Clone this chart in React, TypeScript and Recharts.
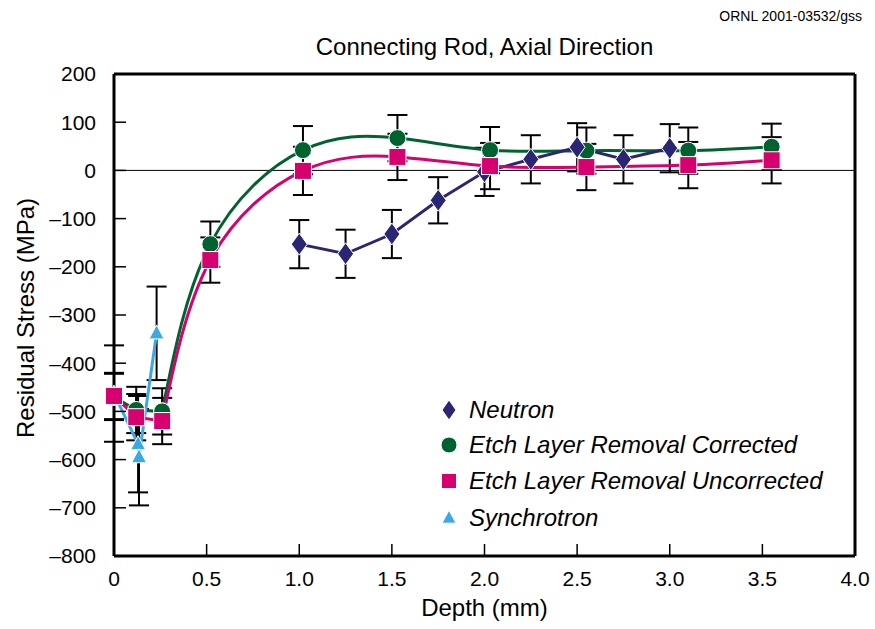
import React from 'react';
import { LineChart, Line, XAxis, YAxis, ErrorBar, ReferenceLine } from 'recharts';

const W = 875;
const H = 629;
const FONT = '"Liberation Sans", Arial, Helvetica, sans-serif';

// Axis ticks
const depthTicks = [0, 0.5, 1, 1.5, 2, 2.5, 3, 3.5, 4];
const stressTicks = [200, 100, 0, -100, -200, -300, -400, -500, -600, -700, -800];

// Neutron diffraction
const neutronDepth = [1.0, 1.25, 1.5, 1.75, 2.0, 2.25, 2.5, 2.75, 3.0];
const neutronStress = [-153, -173, -132, -62, -3, 23, 48, 23, 46];
const neutronErr = [50, 50, 50, 48, 50, 50, 50, 50, 50];

// Etch layer removal (corrected / uncorrected share depths)
const etchDepth = [0, 0.12, 0.26, 0.52, 1.02, 1.53, 2.03, 2.55, 3.1, 3.55];
const etchCorrected = [-470, -497, -500, -153, 42, 67, 42, 41, 41, 49];
const etchUncorrected = [-468, -512, -520, -186, -1, 28, 9, 7, 11, 21];
const etchErr = [48, 48, 48, 47, 50, 48, 48, 48, 48, 48];
// near-surface points are joined by straight segments, the rest by a smooth fit
const etchSmoothFrom = 2;

// Synchrotron
const synchDepth = [0, 0.13, 0.135, 0.23];
const synchStress = [-463, -568, -595, -338];
const synchErr = [100, 100, 100, 97];

const COLORS = {
  neutron: '#2b2674',
  corrected: '#00622f',
  uncorrected: '#d6006f',
  synch: '#3ea8e4',
};

const zip = (xs: number[], ys: number[], es: number[]) =>
  xs.map((x, i) => ({ x, y: ys[i], err: es[i] }));

const neutronData = zip(neutronDepth, neutronStress, neutronErr);
const correctedData = zip(etchDepth, etchCorrected, etchErr);
const uncorrectedData = zip(etchDepth, etchUncorrected, etchErr);
const synchData = zip(synchDepth, synchStress, synchErr);

const Diamond = ({ cx, cy, w = 16, h = 22, fill }: any) => (
  <path
    d={`M${cx},${cy - h / 2} L${cx + w / 2},${cy} L${cx},${cy + h / 2} L${cx - w / 2},${cy} Z`}
    fill={fill}
    stroke="#fff"
    strokeWidth={1}
  />
);
const Circle = ({ cx, cy, r = 8.5, fill }: any) => (
  <circle cx={cx} cy={cy} r={r} fill={fill} stroke="#fff" strokeWidth={1} />
);
const Square = ({ cx, cy, s = 17, fill }: any) => (
  <rect x={cx - s / 2} y={cy - s / 2} width={s} height={s} fill={fill} stroke="#fff" strokeWidth={1} />
);
const Triangle = ({ cx, cy, w = 15, h = 14, fill }: any) => (
  <path
    d={`M${cx},${cy - h * 0.6} L${cx + w / 2},${cy + h * 0.4} L${cx - w / 2},${cy + h * 0.4} Z`}
    fill={fill}
    stroke="#fff"
    strokeWidth={1}
  />
);

const dotOf = (Shape: any, fill: string, tag: string) => (p: any) => (
  <Shape key={`${tag}-${p.index}`} cx={p.cx} cy={p.cy} fill={fill} />
);

const fmtStress = (v: number) => (v < 0 ? `\u2013${Math.abs(v)}` : String(v));
const fmtDepth = (v: number) => (v === 0 ? '0' : v.toFixed(1));

const legendItems = [
  { label: 'Neutron', icon: <Diamond cx={10} cy={12} w={14} h={20} fill={COLORS.neutron} /> },
  { label: 'Etch Layer Removal Corrected', icon: <Circle cx={10} cy={12} r={8} fill={COLORS.corrected} /> },
  { label: 'Etch Layer Removal Uncorrected', icon: <Square cx={10} cy={12} s={15} fill={COLORS.uncorrected} /> },
  { label: 'Synchrotron', icon: <Triangle cx={10} cy={12} w={14} h={13} fill={COLORS.synch} /> },
];
const legendRows = [410, 445, 481, 518];

const errStyle = { stroke: '#000', strokeWidth: 2, width: 10 };

// Invisible carrier so the error bars sit underneath every curve and marker
const ErrorLayer = (data: any[], tag: string) => (
  <Line
    key={`${tag}-err`}
    data={data}
    dataKey="y"
    stroke="none"
    dot={false}
    activeDot={false}
    legendType="none"
    isAnimationActive={false}
  >
    <ErrorBar dataKey="err" direction="y" {...errStyle} />
  </Line>
);

// Etch series: straight segments near the surface, natural spline beyond
const EtchSeries = (data: any[], color: string, Shape: any, tag: string) => [
  <Line
    key={`${tag}-near`}
    data={data.slice(0, etchSmoothFrom + 1)}
    dataKey="y"
    type="linear"
    stroke={color}
    strokeWidth={3}
    dot={dotOf(Shape, color, `${tag}n`)}
    activeDot={false}
    isAnimationActive={false}
  />,
  <Line
    key={`${tag}-deep`}
    data={data.slice(etchSmoothFrom)}
    dataKey="y"
    type="natural"
    stroke={color}
    strokeWidth={3}
    dot={dotOf(Shape, color, `${tag}d`)}
    activeDot={false}
    isAnimationActive={false}
  />,
];

export default function App() {
  return (
    <div style={{ position: 'absolute', left: 0, top: 0, width: W, height: H, background: '#fff', fontFamily: FONT }}>
      <LineChart width={W} height={H} margin={{ top: 74, right: 0, bottom: 0, left: 0 }}>
        <XAxis
          type="number"
          dataKey="x"
          domain={[0, 4]}
          ticks={depthTicks}
          interval={0}
          height={73}
          tickSize={-12}
          tickMargin={27}
          tickFormatter={fmtDepth}
          tick={{ fill: '#000', fontSize: 21, fontFamily: FONT }}
          tickLine={{ stroke: '#000', strokeWidth: 1.5 }}
          axisLine={{ stroke: '#000', strokeWidth: 3 }}
        />
        <YAxis
          type="number"
          domain={[-800, 200]}
          ticks={stressTicks}
          interval={0}
          width={114}
          tickSize={-12}
          tickMargin={30}
          tickFormatter={fmtStress}
          tick={{ fill: '#000', fontSize: 21, fontFamily: FONT }}
          tickLine={{ stroke: '#000', strokeWidth: 1.5 }}
          axisLine={{ stroke: '#000', strokeWidth: 3 }}
        />
        <YAxis
          yAxisId="r"
          orientation="right"
          type="number"
          domain={[-800, 200]}
          ticks={stressTicks}
          interval={0}
          width={20}
          tickSize={-12}
          tick={() => <g />}
          tickLine={{ stroke: '#000', strokeWidth: 1.5 }}
          axisLine={{ stroke: '#000', strokeWidth: 3 }}
        />
        <ReferenceLine y={200} stroke="#000" strokeWidth={3} />
        <ReferenceLine y={0} stroke="#000" strokeWidth={1} />

        {ErrorLayer(correctedData, 'c')}
        {ErrorLayer(neutronData, 'n')}
        {ErrorLayer(synchData, 's')}
        {ErrorLayer(uncorrectedData, 'u')}

        {EtchSeries(correctedData, COLORS.corrected, Circle, 'c')}
        <Line
          data={neutronData}
          dataKey="y"
          type="linear"
          stroke={COLORS.neutron}
          strokeWidth={3}
          dot={dotOf(Diamond, COLORS.neutron, 'n')}
          activeDot={false}
          isAnimationActive={false}
        />
        <Line
          data={synchData}
          dataKey="y"
          type="linear"
          stroke={COLORS.synch}
          strokeWidth={3}
          dot={dotOf(Triangle, COLORS.synch, 's')}
          activeDot={false}
          isAnimationActive={false}
        />
        {EtchSeries(uncorrectedData, COLORS.uncorrected, Square, 'u')}
      </LineChart>

      <div style={{ position: 'absolute', right: 13, top: 8, fontSize: 14, lineHeight: '16px', color: '#000' }}>
        ORNL 2001-03532/gss
      </div>
      <div style={{ position: 'absolute', left: 114, width: 741, top: 33, fontSize: 24, lineHeight: '28px', textAlign: 'center', color: '#000' }}>
        Connecting Rod, Axial Direction
      </div>
      <div style={{ position: 'absolute', left: 114, width: 741, top: 594, fontSize: 24, lineHeight: '28px', textAlign: 'center', color: '#000' }}>
        Depth (mm)
      </div>
      <div
        style={{
          position: 'absolute',
          left: 26 - 160,
          top: 318 - 14,
          width: 320,
          fontSize: 24,
          lineHeight: '28px',
          textAlign: 'center',
          transform: 'rotate(-90deg)',
          color: '#000',
        }}
      >
        Residual Stress (MPa)
      </div>

      {legendItems.map((it, i) => (
        <div
          key={it.label}
          style={{ position: 'absolute', left: 439, top: legendRows[i] - 14, height: 28, display: 'flex', alignItems: 'center' }}
        >
          <svg width={20} height={24} style={{ display: 'block' }}>{it.icon}</svg>
          <span style={{ marginLeft: 10, fontSize: 24, fontStyle: 'italic', lineHeight: '28px', color: '#000' }}>{it.label}</span>
        </div>
      ))}
    </div>
  );
}
